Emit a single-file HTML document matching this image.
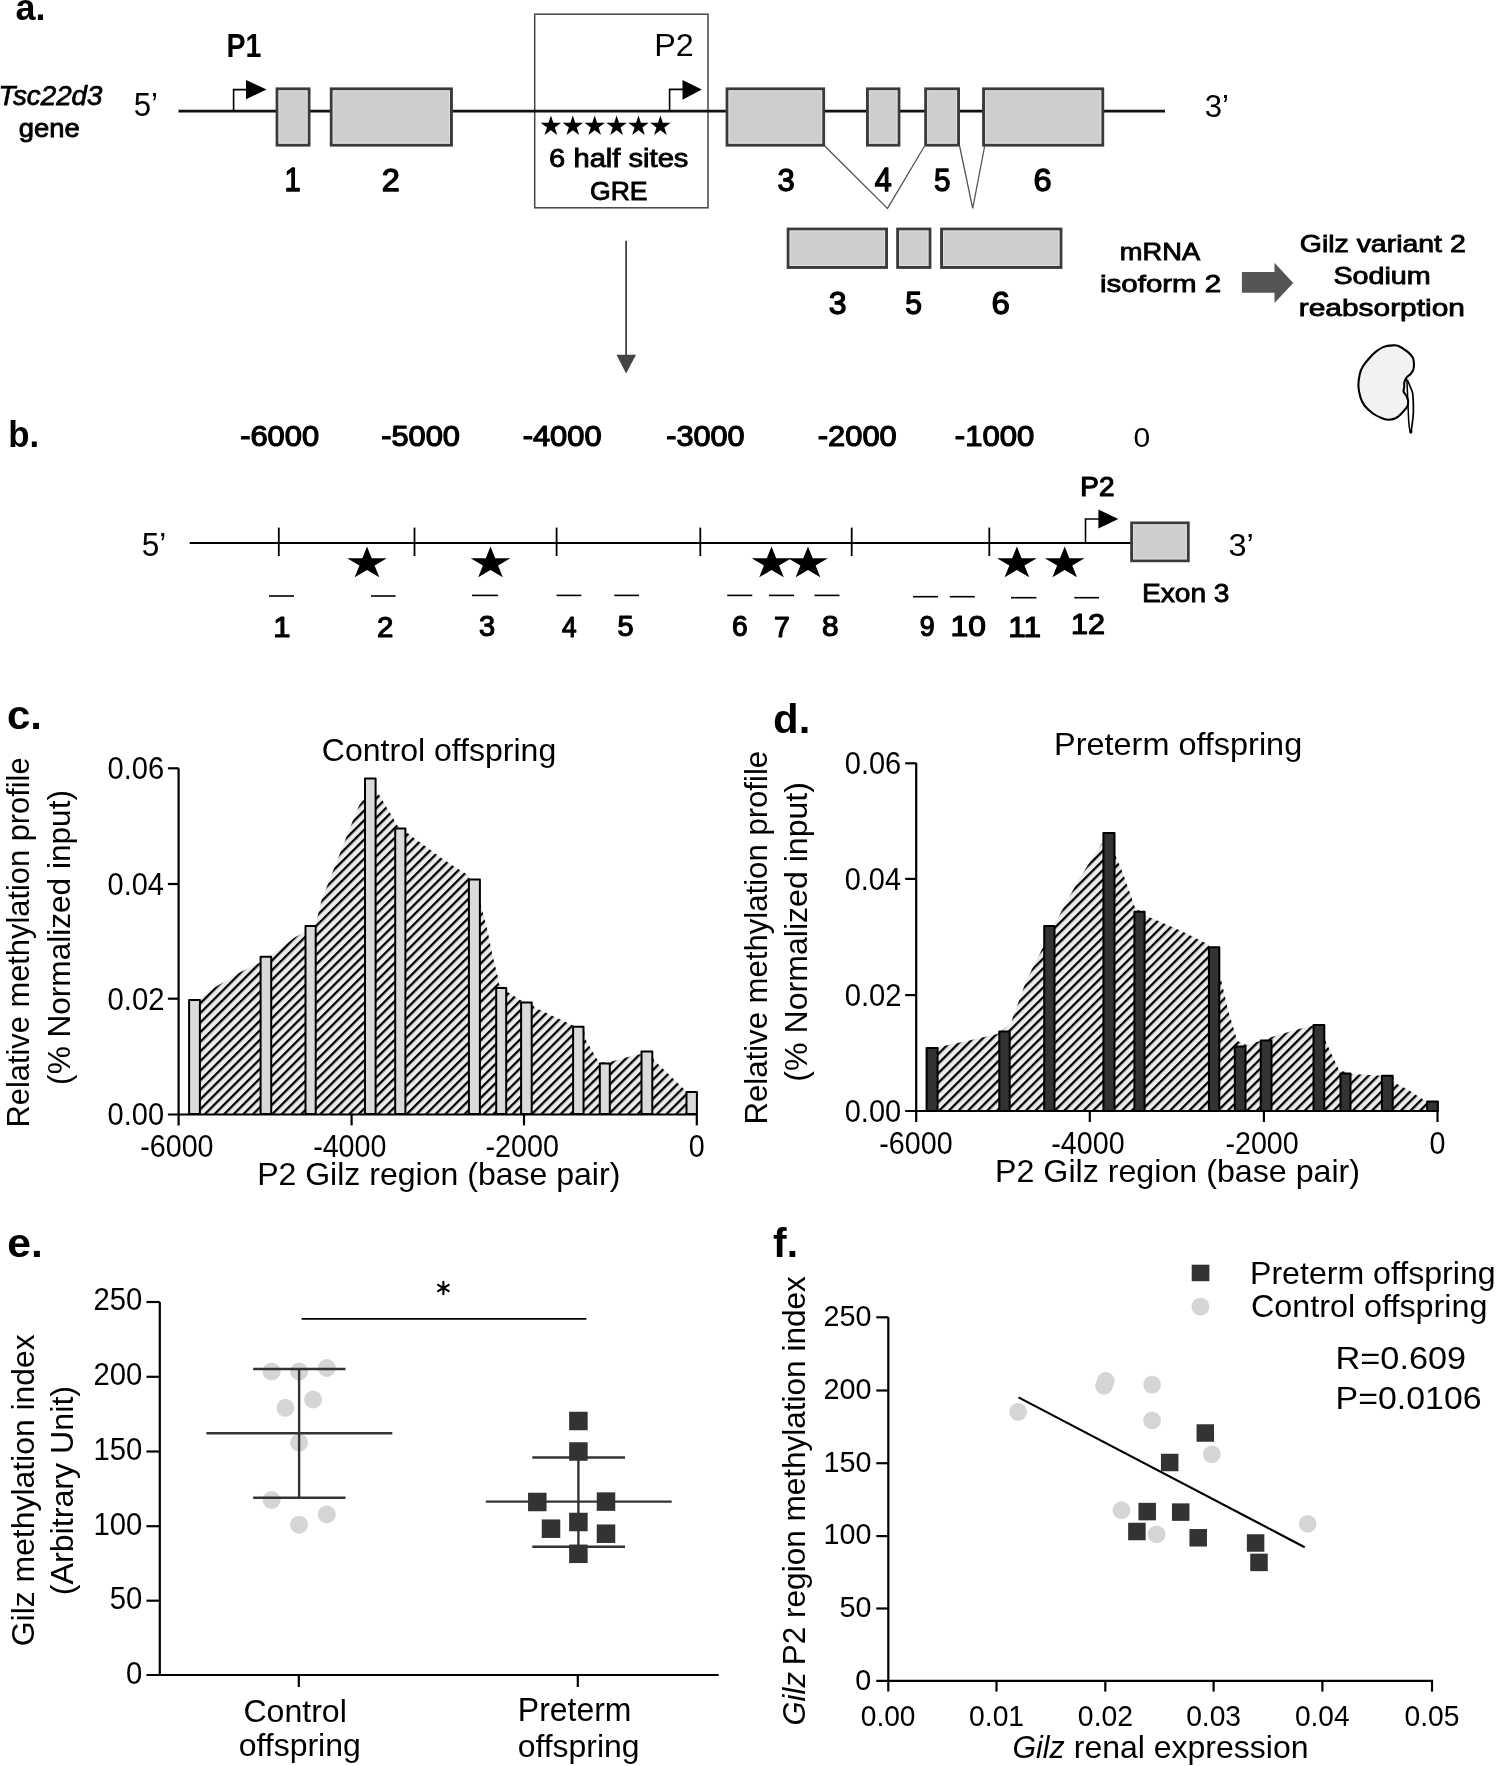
<!DOCTYPE html><html><head><meta charset="utf-8"><style>html,body{margin:0;padding:0;background:#fff;}svg{display:block;font-family:"Liberation Sans",sans-serif;filter:grayscale(1) blur(0.35px);}</style></head><body><svg width="1496" height="1766" viewBox="0 0 1496 1766"><rect width="1496" height="1766" fill="#fff"/><text x="15.52" y="20.14" font-size="36.36" font-weight="bold" font-style="normal" fill="#000" textLength="29.96" lengthAdjust="spacingAndGlyphs">a.</text>
<text x="226.54" y="56.50" font-size="32.9" font-weight="bold" font-style="normal" fill="#000" textLength="34.96" lengthAdjust="spacingAndGlyphs">P1</text>
<text x="-1.40" y="104.80" font-size="28.5" font-weight="normal" font-style="italic" fill="#000" textLength="103.80" lengthAdjust="spacingAndGlyphs" stroke="#000" stroke-width="0.75">Tsc22d3</text>
<text x="18.81" y="136.80" font-size="26" font-weight="normal" font-style="normal" fill="#000" textLength="60.82" lengthAdjust="spacingAndGlyphs" stroke="#000" stroke-width="0.85">gene</text>
<text x="133.65" y="115.67" font-size="32.71" font-weight="normal" font-style="normal" fill="#000" textLength="24.33" lengthAdjust="spacingAndGlyphs">5’</text>
<text x="1204.76" y="117.48" font-size="32.25" font-weight="normal" font-style="normal" fill="#000" textLength="24.22" lengthAdjust="spacingAndGlyphs">3’</text>
<rect x="534.7" y="14.2" width="173.3" height="193.6" fill="none" stroke="#444" stroke-width="1.5"/>
<line x1="178.50" y1="111.10" x2="1165.00" y2="111.10" stroke="#111" stroke-width="2.6"/>
<rect x="277.05" y="88.85" width="32.00" height="56.30" fill="#cecece" stroke="#3a3a3a" stroke-width="2.9"/>
<rect x="279.10" y="90.90" width="27.90" height="52.20" fill="none" stroke="#dcdcdc" stroke-width="1.1"/>
<rect x="331.25" y="88.85" width="120.20" height="56.30" fill="#cecece" stroke="#3a3a3a" stroke-width="2.9"/>
<rect x="333.30" y="90.90" width="116.10" height="52.20" fill="none" stroke="#dcdcdc" stroke-width="1.1"/>
<rect x="727.05" y="88.85" width="96.60" height="56.30" fill="#cecece" stroke="#3a3a3a" stroke-width="2.9"/>
<rect x="729.10" y="90.90" width="92.50" height="52.20" fill="none" stroke="#dcdcdc" stroke-width="1.1"/>
<rect x="867.45" y="88.85" width="31.50" height="56.30" fill="#cecece" stroke="#3a3a3a" stroke-width="2.9"/>
<rect x="869.50" y="90.90" width="27.40" height="52.20" fill="none" stroke="#dcdcdc" stroke-width="1.1"/>
<rect x="925.65" y="88.85" width="32.90" height="56.30" fill="#cecece" stroke="#3a3a3a" stroke-width="2.9"/>
<rect x="927.70" y="90.90" width="28.80" height="52.20" fill="none" stroke="#dcdcdc" stroke-width="1.1"/>
<rect x="983.55" y="88.85" width="119.20" height="56.30" fill="#cecece" stroke="#3a3a3a" stroke-width="2.9"/>
<rect x="985.60" y="90.90" width="115.10" height="52.20" fill="none" stroke="#dcdcdc" stroke-width="1.1"/>
<path d="M233.6,111 V89.6 H248" fill="none" stroke="#000" stroke-width="1.6"/>
<polygon points="246,80 266.5,89.6 246,99.2" fill="#000"/>
<path d="M669.6,111 V89.4 H684" fill="none" stroke="#000" stroke-width="1.6"/>
<polygon points="682.5,80.1 701.8,89.4 682.5,99.7" fill="#000"/>
<text x="654.22" y="56.30" font-size="31" font-weight="normal" font-style="normal" fill="#000" textLength="39.50" lengthAdjust="spacingAndGlyphs">P2</text>
<polygon points="550.90,115.40 553.32,122.86 561.17,122.86 554.82,127.47 557.25,134.94 550.90,130.33 544.55,134.94 546.98,127.47 540.63,122.86 548.48,122.86" fill="#000"/>
<polygon points="572.80,115.40 575.22,122.86 583.07,122.86 576.72,127.47 579.15,134.94 572.80,130.33 566.45,134.94 568.88,127.47 562.53,122.86 570.38,122.86" fill="#000"/>
<polygon points="594.70,115.40 597.12,122.86 604.97,122.86 598.62,127.47 601.05,134.94 594.70,130.33 588.35,134.94 590.78,127.47 584.43,122.86 592.28,122.86" fill="#000"/>
<polygon points="616.60,115.40 619.02,122.86 626.87,122.86 620.52,127.47 622.95,134.94 616.60,130.33 610.25,134.94 612.68,127.47 606.33,122.86 614.18,122.86" fill="#000"/>
<polygon points="638.50,115.40 640.92,122.86 648.77,122.86 642.42,127.47 644.85,134.94 638.50,130.33 632.15,134.94 634.58,127.47 628.23,122.86 636.08,122.86" fill="#000"/>
<polygon points="660.40,115.40 662.82,122.86 670.67,122.86 664.32,127.47 666.75,134.94 660.40,130.33 654.05,134.94 656.48,127.47 650.13,122.86 657.98,122.86" fill="#000"/>
<text x="549.14" y="167.40" font-size="25.5" font-weight="normal" font-style="normal" fill="#000" textLength="139.29" lengthAdjust="spacingAndGlyphs" stroke="#000" stroke-width="0.85">6 half sites</text>
<text x="589.97" y="199.70" font-size="26.3" font-weight="normal" font-style="normal" fill="#000" textLength="57.65" lengthAdjust="spacingAndGlyphs" stroke="#000" stroke-width="0.85">GRE</text>
<text x="284.46" y="191.25" font-size="32.32" font-weight="normal" font-style="normal" fill="#000" textLength="16.24" lengthAdjust="spacingAndGlyphs" stroke="#000" stroke-width="1.3" stroke-linejoin="round">1</text>
<text x="381.72" y="191.25" font-size="31.86" font-weight="normal" font-style="normal" fill="#000" textLength="18.09" lengthAdjust="spacingAndGlyphs" stroke="#000" stroke-width="1.3" stroke-linejoin="round">2</text>
<text x="777.41" y="190.94" font-size="31.41" font-weight="normal" font-style="normal" fill="#000" textLength="17.21" lengthAdjust="spacingAndGlyphs" stroke="#000" stroke-width="1.3" stroke-linejoin="round">3</text>
<text x="874.84" y="191.25" font-size="32.32" font-weight="normal" font-style="normal" fill="#000" textLength="16.96" lengthAdjust="spacingAndGlyphs" stroke="#000" stroke-width="1.3" stroke-linejoin="round">4</text>
<text x="934.06" y="190.93" font-size="31.86" font-weight="normal" font-style="normal" fill="#000" textLength="16.51" lengthAdjust="spacingAndGlyphs" stroke="#000" stroke-width="1.3" stroke-linejoin="round">5</text>
<text x="1033.63" y="190.94" font-size="31.41" font-weight="normal" font-style="normal" fill="#000" textLength="18.06" lengthAdjust="spacingAndGlyphs" stroke="#000" stroke-width="1.3" stroke-linejoin="round">6</text>
<polyline points="824.7,146 887.5,208.4 924.6,146" fill="none" stroke="#555" stroke-width="1.3"/>
<polyline points="959.6,146 972.7,208.4 984.7,146" fill="none" stroke="#555" stroke-width="1.3"/>
<rect x="788.15" y="229.05" width="98.40" height="38.40" fill="#cecece" stroke="#3a3a3a" stroke-width="2.9"/>
<rect x="790.20" y="231.10" width="94.30" height="34.30" fill="none" stroke="#dcdcdc" stroke-width="1.1"/>
<rect x="897.65" y="229.05" width="32.30" height="38.40" fill="#cecece" stroke="#3a3a3a" stroke-width="2.9"/>
<rect x="899.70" y="231.10" width="28.20" height="34.30" fill="none" stroke="#dcdcdc" stroke-width="1.1"/>
<rect x="941.55" y="229.05" width="119.40" height="38.40" fill="#cecece" stroke="#3a3a3a" stroke-width="2.9"/>
<rect x="943.60" y="231.10" width="115.30" height="34.30" fill="none" stroke="#dcdcdc" stroke-width="1.1"/>
<text x="828.87" y="313.63" font-size="31.55" font-weight="normal" font-style="normal" fill="#000" textLength="17.80" lengthAdjust="spacingAndGlyphs" stroke="#000" stroke-width="1.3" stroke-linejoin="round">3</text>
<text x="905.25" y="313.63" font-size="32.0" font-weight="normal" font-style="normal" fill="#000" textLength="16.74" lengthAdjust="spacingAndGlyphs" stroke="#000" stroke-width="1.3" stroke-linejoin="round">5</text>
<text x="991.50" y="313.63" font-size="31.55" font-weight="normal" font-style="normal" fill="#000" textLength="18.30" lengthAdjust="spacingAndGlyphs" stroke="#000" stroke-width="1.3" stroke-linejoin="round">6</text>
<text x="1119.83" y="260.10" font-size="24" font-weight="normal" font-style="normal" fill="#000" textLength="80.29" lengthAdjust="spacingAndGlyphs" stroke="#000" stroke-width="0.85">mRNA</text>
<text x="1100.08" y="291.70" font-size="24" font-weight="normal" font-style="normal" fill="#000" textLength="121.16" lengthAdjust="spacingAndGlyphs" stroke="#000" stroke-width="0.85">isoform 2</text>
<polygon points="1241.9,272 1274.5,272 1274.5,262.8 1293.2,283 1274.5,302.9 1274.5,292.7 1241.9,292.7" fill="#555"/>
<text x="1299.78" y="251.60" font-size="24.5" font-weight="normal" font-style="normal" fill="#000" textLength="165.96" lengthAdjust="spacingAndGlyphs" stroke="#000" stroke-width="0.85">Gilz variant 2</text>
<text x="1333.41" y="283.60" font-size="24.5" font-weight="normal" font-style="normal" fill="#000" textLength="97.34" lengthAdjust="spacingAndGlyphs" stroke="#000" stroke-width="0.85">Sodium</text>
<text x="1298.76" y="315.50" font-size="24.5" font-weight="normal" font-style="normal" fill="#000" textLength="166.16" lengthAdjust="spacingAndGlyphs" stroke="#000" stroke-width="0.85">reabsorption</text>
<line x1="626.10" y1="240.70" x2="626.10" y2="356.00" stroke="#444" stroke-width="1.8"/>
<polygon points="616.5,354.7 636,354.7 626.1,373.5" fill="#444"/>
<path d="M1392.56,345.40 C1395.04,345.26 1396.03,344.96 1398.51,346.00 C1400.98,347.04 1405.05,349.71 1407.43,351.65 C1409.80,353.58 1411.69,355.61 1412.78,357.59 C1413.87,359.57 1413.87,361.56 1413.97,363.54 C1414.06,365.52 1413.97,367.70 1413.37,369.48 C1412.78,371.27 1411.49,372.95 1410.40,374.24 C1409.31,375.53 1407.82,375.92 1406.83,377.21 C1405.84,378.50 1404.90,380.28 1404.45,381.97 C1404.01,383.65 1404.30,385.73 1404.16,387.32 C1404.01,388.90 1403.21,390.09 1403.56,391.48 C1403.91,392.87 1405.49,394.16 1406.24,395.64 C1406.98,397.13 1407.82,398.61 1408.02,400.40 C1408.22,402.18 1408.52,404.16 1407.43,406.34 C1406.34,408.52 1403.46,411.50 1401.48,413.48 C1399.50,415.46 1397.81,417.19 1395.54,418.23 C1393.26,419.27 1390.28,419.82 1387.81,419.72 C1385.33,419.62 1383.15,418.68 1380.67,417.64 C1378.19,416.60 1375.62,415.46 1372.94,413.48 C1370.27,411.50 1366.70,408.42 1364.62,405.75 C1362.54,403.07 1361.50,400.79 1360.46,397.43 C1359.42,394.06 1358.48,389.50 1358.38,385.54 C1358.28,381.57 1359.12,376.82 1359.86,373.64 C1360.61,370.47 1361.35,368.99 1362.84,366.51 C1364.32,364.03 1366.60,361.26 1368.78,358.78 C1370.96,356.30 1373.44,353.63 1375.92,351.65 C1378.39,349.67 1380.87,347.93 1383.64,346.89 C1386.42,345.85 1390.09,345.55 1392.56,345.40 Z" fill="#f2f2f2" stroke="#000" stroke-width="2.1"/>
<path d="M1406.83,379.00 C1406.93,381.08 1407.23,387.12 1407.43,391.48 C1407.62,395.84 1407.77,399.70 1408.02,405.15 C1408.27,410.60 1408.52,419.62 1408.91,424.18 C1409.31,428.74 1410.15,431.12 1410.40,432.50 " fill="none" stroke="#000" stroke-width="1.5"/>
<path d="M1407.43,380.18 C1408.02,381.57 1410.10,386.13 1410.99,388.51 C1411.88,390.89 1412.38,390.49 1412.78,394.45 C1413.17,398.42 1413.47,407.33 1413.37,412.29 C1413.27,417.24 1412.58,420.81 1412.18,424.18 C1411.79,427.55 1411.19,431.12 1410.99,432.50 " fill="none" stroke="#000" stroke-width="1.7"/>
<ellipse cx="1410.8" cy="431.5" rx="1.6" ry="2.2" fill="#000"/>
<text x="8.34" y="446.52" font-size="37.69" font-weight="bold" font-style="normal" fill="#000" textLength="30.96" lengthAdjust="spacingAndGlyphs">b.</text>
<text x="240.21" y="446.01" font-size="28.59" font-weight="normal" font-style="normal" fill="#000" textLength="78.85" lengthAdjust="spacingAndGlyphs" stroke="#000" stroke-width="1.2" stroke-linejoin="round">-6000</text>
<text x="381.21" y="446.01" font-size="28.59" font-weight="normal" font-style="normal" fill="#000" textLength="78.75" lengthAdjust="spacingAndGlyphs" stroke="#000" stroke-width="1.2" stroke-linejoin="round">-5000</text>
<text x="522.71" y="446.01" font-size="28.59" font-weight="normal" font-style="normal" fill="#000" textLength="78.85" lengthAdjust="spacingAndGlyphs" stroke="#000" stroke-width="1.2" stroke-linejoin="round">-4000</text>
<text x="666.22" y="446.01" font-size="28.59" font-weight="normal" font-style="normal" fill="#000" textLength="78.33" lengthAdjust="spacingAndGlyphs" stroke="#000" stroke-width="1.2" stroke-linejoin="round">-3000</text>
<text x="817.81" y="446.01" font-size="28.59" font-weight="normal" font-style="normal" fill="#000" textLength="78.95" lengthAdjust="spacingAndGlyphs" stroke="#000" stroke-width="1.2" stroke-linejoin="round">-2000</text>
<text x="954.80" y="446.01" font-size="28.59" font-weight="normal" font-style="normal" fill="#000" textLength="79.37" lengthAdjust="spacingAndGlyphs" stroke="#000" stroke-width="1.2" stroke-linejoin="round">-1000</text>
<text x="1133.40" y="446.90" font-size="28" font-weight="normal" font-style="normal" fill="#000" textLength="16.69" lengthAdjust="spacingAndGlyphs">0</text>
<text x="141.64" y="556.18" font-size="32.43" font-weight="normal" font-style="normal" fill="#000" textLength="24.56" lengthAdjust="spacingAndGlyphs">5’</text>
<text x="1228.50" y="555.89" font-size="30.99" font-weight="normal" font-style="normal" fill="#000" textLength="25.37" lengthAdjust="spacingAndGlyphs">3’</text>
<line x1="189.70" y1="543.00" x2="1131.40" y2="543.00" stroke="#000" stroke-width="1.8"/>
<line x1="278.80" y1="527.60" x2="278.80" y2="556.00" stroke="#000" stroke-width="1.8"/>
<line x1="414.50" y1="527.60" x2="414.50" y2="556.00" stroke="#000" stroke-width="1.8"/>
<line x1="556.60" y1="527.60" x2="556.60" y2="556.00" stroke="#000" stroke-width="1.8"/>
<line x1="700.30" y1="527.60" x2="700.30" y2="556.00" stroke="#000" stroke-width="1.8"/>
<line x1="851.70" y1="527.60" x2="851.70" y2="556.00" stroke="#000" stroke-width="1.8"/>
<line x1="989.30" y1="527.60" x2="989.30" y2="556.00" stroke="#000" stroke-width="1.8"/>
<path d="M1085.5,543 V519 H1099" fill="none" stroke="#000" stroke-width="1.6"/>
<polygon points="1098.4,509.5 1118.3,519 1098.4,528.5" fill="#000"/>
<text x="1080.38" y="496.10" font-size="26.86" font-weight="normal" font-style="normal" fill="#000" textLength="34.00" lengthAdjust="spacingAndGlyphs" stroke="#000" stroke-width="1.2" stroke-linejoin="round">P2</text>
<rect x="1131.60" y="522.90" width="56.70" height="37.90" fill="#cecece" stroke="#3a3a3a" stroke-width="2.8"/>
<rect x="1133.60" y="524.90" width="52.70" height="33.90" fill="none" stroke="#dcdcdc" stroke-width="1.1"/>
<text x="1141.95" y="601.50" font-size="26.6" font-weight="normal" font-style="normal" fill="#000" textLength="87.57" lengthAdjust="spacingAndGlyphs" stroke="#000" stroke-width="0.85">Exon 3</text>
<polygon points="367.00,546.60 371.70,558.35 386.89,558.35 374.60,565.61 379.29,577.35 367.00,570.09 354.71,577.35 359.40,565.61 347.11,558.35 362.30,558.35" fill="#000"/>
<polygon points="490.50,546.60 495.20,558.35 510.39,558.35 498.10,565.61 502.79,577.35 490.50,570.09 478.21,577.35 482.90,565.61 470.61,558.35 485.80,558.35" fill="#000"/>
<polygon points="771.50,546.60 776.20,558.35 791.39,558.35 779.10,565.61 783.79,577.35 771.50,570.09 759.21,577.35 763.90,565.61 751.61,558.35 766.80,558.35" fill="#000"/>
<polygon points="808.00,546.60 812.70,558.35 827.89,558.35 815.60,565.61 820.29,577.35 808.00,570.09 795.71,577.35 800.40,565.61 788.11,558.35 803.30,558.35" fill="#000"/>
<polygon points="1016.90,546.60 1021.60,558.35 1036.79,558.35 1024.50,565.61 1029.19,577.35 1016.90,570.09 1004.61,577.35 1009.30,565.61 997.01,558.35 1012.20,558.35" fill="#000"/>
<polygon points="1064.70,546.60 1069.40,558.35 1084.59,558.35 1072.30,565.61 1076.99,577.35 1064.70,570.09 1052.41,577.35 1057.10,565.61 1044.81,558.35 1060.00,558.35" fill="#000"/>
<line x1="269.00" y1="596.00" x2="294.00" y2="596.00" stroke="#000" stroke-width="1.6"/>
<line x1="371.00" y1="596.00" x2="395.60" y2="596.00" stroke="#000" stroke-width="1.6"/>
<line x1="472.00" y1="595.40" x2="497.90" y2="595.40" stroke="#000" stroke-width="1.6"/>
<line x1="556.60" y1="595.40" x2="581.30" y2="595.40" stroke="#000" stroke-width="1.6"/>
<line x1="614.30" y1="595.40" x2="639.00" y2="595.40" stroke="#000" stroke-width="1.6"/>
<line x1="727.20" y1="595.40" x2="752.30" y2="595.40" stroke="#000" stroke-width="1.6"/>
<line x1="769.00" y1="595.40" x2="794.00" y2="595.40" stroke="#000" stroke-width="1.6"/>
<line x1="814.50" y1="595.40" x2="839.50" y2="595.40" stroke="#000" stroke-width="1.6"/>
<line x1="913.00" y1="596.70" x2="938.00" y2="596.70" stroke="#000" stroke-width="1.6"/>
<line x1="949.80" y1="596.70" x2="974.80" y2="596.70" stroke="#000" stroke-width="1.6"/>
<line x1="1011.00" y1="597.70" x2="1036.40" y2="597.70" stroke="#000" stroke-width="1.6"/>
<line x1="1074.30" y1="597.70" x2="1099.00" y2="597.70" stroke="#000" stroke-width="1.6"/>
<text x="273.27" y="636.50" font-size="29.57" font-weight="normal" font-style="normal" fill="#000" textLength="17.26" lengthAdjust="spacingAndGlyphs" stroke="#000" stroke-width="1.2" stroke-linejoin="round">1</text>
<text x="377.13" y="636.50" font-size="29.14" font-weight="normal" font-style="normal" fill="#000" textLength="16.38" lengthAdjust="spacingAndGlyphs" stroke="#000" stroke-width="1.2" stroke-linejoin="round">2</text>
<text x="479.04" y="636.21" font-size="28.73" font-weight="normal" font-style="normal" fill="#000" textLength="16.16" lengthAdjust="spacingAndGlyphs" stroke="#000" stroke-width="1.2" stroke-linejoin="round">3</text>
<text x="562.07" y="636.50" font-size="29.57" font-weight="normal" font-style="normal" fill="#000" textLength="14.65" lengthAdjust="spacingAndGlyphs" stroke="#000" stroke-width="1.2" stroke-linejoin="round">4</text>
<text x="617.44" y="636.21" font-size="29.14" font-weight="normal" font-style="normal" fill="#000" textLength="16.16" lengthAdjust="spacingAndGlyphs" stroke="#000" stroke-width="1.2" stroke-linejoin="round">5</text>
<text x="731.89" y="636.21" font-size="28.73" font-weight="normal" font-style="normal" fill="#000" textLength="15.67" lengthAdjust="spacingAndGlyphs" stroke="#000" stroke-width="1.2" stroke-linejoin="round">6</text>
<text x="773.88" y="636.50" font-size="29.57" font-weight="normal" font-style="normal" fill="#000" textLength="15.77" lengthAdjust="spacingAndGlyphs" stroke="#000" stroke-width="1.2" stroke-linejoin="round">7</text>
<text x="822.06" y="636.21" font-size="28.73" font-weight="normal" font-style="normal" fill="#000" textLength="16.57" lengthAdjust="spacingAndGlyphs" stroke="#000" stroke-width="1.2" stroke-linejoin="round">8</text>
<text x="919.69" y="636.21" font-size="28.73" font-weight="normal" font-style="normal" fill="#000" textLength="14.95" lengthAdjust="spacingAndGlyphs" stroke="#000" stroke-width="1.2" stroke-linejoin="round">9</text>
<text x="950.62" y="636.21" font-size="28.73" font-weight="normal" font-style="normal" fill="#000" textLength="35.37" lengthAdjust="spacingAndGlyphs" stroke="#000" stroke-width="1.2" stroke-linejoin="round">10</text>
<text x="1008.24" y="636.50" font-size="29.57" font-weight="normal" font-style="normal" fill="#000" textLength="32.68" lengthAdjust="spacingAndGlyphs" stroke="#000" stroke-width="1.2" stroke-linejoin="round">11</text>
<text x="1071.01" y="634.30" font-size="29.14" font-weight="normal" font-style="normal" fill="#000" textLength="33.99" lengthAdjust="spacingAndGlyphs" stroke="#000" stroke-width="1.2" stroke-linejoin="round">12</text>
<text x="6.92" y="728.69" font-size="40.91" font-weight="bold" font-style="normal" fill="#000" textLength="35.08" lengthAdjust="spacingAndGlyphs">c.</text>
<text x="773.12" y="733.30" font-size="40.41" font-weight="bold" font-style="normal" fill="#000" textLength="37.26" lengthAdjust="spacingAndGlyphs">d.</text>
<defs><pattern id="hc" patternUnits="userSpaceOnUse" width="6.8" height="6.8" patternTransform="rotate(45)"><rect width="6.8" height="6.8" fill="#ebebeb"/><rect x="0" y="0" width="2.3" height="6.8" fill="#000"/></pattern><pattern id="hd" patternUnits="userSpaceOnUse" width="6.8" height="6.8" patternTransform="rotate(45)"><rect width="6.8" height="6.8" fill="#ebebeb"/><rect x="0" y="0" width="2.3" height="6.8" fill="#000"/></pattern></defs>
<polygon points="194.5,1114 194.5,1000.0 200.4,998.5 207.0,993.0 215.0,987.2 228.0,979.5 240.0,972.2 250.0,967.5 259.2,963.1 272.2,954.1 284.0,945.5 295.3,937.1 304.3,932.6 316.0,923.0 321.5,900.0 327.3,885.5 334.0,868.2 339.8,853.7 346.6,836.4 352.3,822.0 359.1,805.6 364.0,798.5 376.4,791.2 379.3,795.0 386.0,806.6 392.8,817.2 396.6,824.9 406.0,831.8 412.9,837.2 424.7,845.8 440.9,857.7 453.8,866.3 468.0,875.0 481.0,906.0 487.2,929.0 492.5,955.6 497.4,975.0 499.0,984.6 506.7,988.0 507.7,992.0 520.6,1000.3 532.0,1004.0 534.7,1007.5 572.0,1025.0 584.0,1030.0 585.5,1039.6 599.0,1062.4 610.3,1062.0 611.4,1061.4 628.0,1057.0 641.0,1054.0 652.8,1056.0 653.8,1060.0 669.4,1074.9 685.5,1090.4 692.0,1092.0 692.0,1114" fill="url(#hc)"/>
<rect x="189.10" y="1000.10" width="10.80" height="113.90" fill="#dadada" stroke="#000" stroke-width="2" stroke-linejoin="round"/>
<rect x="260.60" y="956.70" width="10.60" height="157.30" fill="#dadada" stroke="#000" stroke-width="2" stroke-linejoin="round"/>
<rect x="305.50" y="926.10" width="10.20" height="187.90" fill="#dadada" stroke="#000" stroke-width="2" stroke-linejoin="round"/>
<rect x="365.00" y="778.50" width="10.60" height="335.50" fill="#dadada" stroke="#000" stroke-width="2" stroke-linejoin="round"/>
<rect x="395.20" y="828.50" width="10.20" height="285.50" fill="#dadada" stroke="#000" stroke-width="2" stroke-linejoin="round"/>
<rect x="468.90" y="879.60" width="11.00" height="234.40" fill="#dadada" stroke="#000" stroke-width="2" stroke-linejoin="round"/>
<rect x="496.20" y="988.00" width="10.00" height="126.00" fill="#dadada" stroke="#000" stroke-width="2" stroke-linejoin="round"/>
<rect x="521.10" y="1002.60" width="10.60" height="111.40" fill="#dadada" stroke="#000" stroke-width="2" stroke-linejoin="round"/>
<rect x="573.10" y="1026.80" width="10.40" height="87.20" fill="#dadada" stroke="#000" stroke-width="2" stroke-linejoin="round"/>
<rect x="599.80" y="1063.60" width="10.00" height="50.40" fill="#dadada" stroke="#000" stroke-width="2" stroke-linejoin="round"/>
<rect x="641.50" y="1051.60" width="10.80" height="62.40" fill="#dadada" stroke="#000" stroke-width="2" stroke-linejoin="round"/>
<rect x="686.50" y="1092.00" width="10.40" height="22.00" fill="#dadada" stroke="#000" stroke-width="2" stroke-linejoin="round"/>
<line x1="178.60" y1="768.30" x2="178.60" y2="1125.40" stroke="#000" stroke-width="2.2"/>
<line x1="167.90" y1="1114.50" x2="697.50" y2="1114.50" stroke="#000" stroke-width="2.2"/>
<line x1="167.90" y1="768.30" x2="178.60" y2="768.30" stroke="#000" stroke-width="2.2"/>
<line x1="167.90" y1="884.00" x2="178.60" y2="884.00" stroke="#000" stroke-width="2.2"/>
<line x1="167.90" y1="998.70" x2="178.60" y2="998.70" stroke="#000" stroke-width="2.2"/>
<line x1="351.60" y1="1114.50" x2="351.60" y2="1125.40" stroke="#000" stroke-width="2.2"/>
<line x1="524.00" y1="1114.50" x2="524.00" y2="1125.40" stroke="#000" stroke-width="2.2"/>
<line x1="696.80" y1="1114.50" x2="696.80" y2="1125.40" stroke="#000" stroke-width="2.2"/>
<text x="107.54" y="779.10" font-size="30.5" font-weight="normal" font-style="normal" fill="#000" textLength="56.67" lengthAdjust="spacingAndGlyphs">0.06</text>
<text x="107.54" y="894.80" font-size="30.5" font-weight="normal" font-style="normal" fill="#000" textLength="56.37" lengthAdjust="spacingAndGlyphs">0.04</text>
<text x="107.53" y="1009.50" font-size="30.5" font-weight="normal" font-style="normal" fill="#000" textLength="56.97" lengthAdjust="spacingAndGlyphs">0.02</text>
<text x="107.54" y="1125.00" font-size="30.5" font-weight="normal" font-style="normal" fill="#000" textLength="56.52" lengthAdjust="spacingAndGlyphs">0.00</text>
<text x="140.23" y="1156.70" font-size="30.5" font-weight="normal" font-style="normal" fill="#000" textLength="73.33" lengthAdjust="spacingAndGlyphs">-6000</text>
<text x="313.13" y="1156.70" font-size="30.5" font-weight="normal" font-style="normal" fill="#000" textLength="73.33" lengthAdjust="spacingAndGlyphs">-4000</text>
<text x="485.53" y="1156.70" font-size="30.5" font-weight="normal" font-style="normal" fill="#000" textLength="73.33" lengthAdjust="spacingAndGlyphs">-2000</text>
<text x="688.77" y="1156.70" font-size="30.5" font-weight="normal" font-style="normal" fill="#000" textLength="15.95" lengthAdjust="spacingAndGlyphs">0</text>
<text x="257.14" y="1184.80" font-size="32" font-weight="normal" font-style="normal" fill="#000" textLength="363.20" lengthAdjust="spacingAndGlyphs">P2 Gilz region (base pair)</text>
<text x="321.80" y="760.60" font-size="32" font-weight="normal" font-style="normal" fill="#000" textLength="234.45" lengthAdjust="spacingAndGlyphs">Control offspring</text>
<text transform="translate(28.90,1127.47) rotate(-90)" x="0" y="0" font-size="31.5" font-weight="normal" font-style="normal" fill="#000" textLength="370.09" lengthAdjust="spacingAndGlyphs">Relative methylation profile</text>
<text transform="translate(70.20,1084.89) rotate(-90)" x="0" y="0" font-size="31.5" font-weight="normal" font-style="normal" fill="#000" textLength="294.84" lengthAdjust="spacingAndGlyphs">(% Normalized input)</text>
<polygon points="932.0,1111 932.0,1047.5 939.0,1046.9 968.0,1040.7 997.2,1033.9 1010.8,1023.2 1026.3,980.6 1043.7,945.7 1055.4,922.4 1078.6,879.8 1101.9,843.0 1115.9,856.5 1123.2,874.0 1134.8,907.0 1145.5,915.6 1181.4,931.0 1208.4,944.5 1220.4,976.7 1228.0,1010.0 1237.4,1040.9 1246.7,1045.0 1260.2,1040.9 1272.6,1036.8 1293.3,1030.5 1313.0,1025.4 1325.5,1040.9 1339.0,1070.0 1351.4,1074.0 1381.4,1075.7 1393.8,1082.3 1409.4,1090.6 1426.6,1102.0 1432.0,1102.0 1432.0,1111" fill="url(#hd)"/>
<rect x="926.60" y="1048.10" width="11.00" height="62.90" fill="#333" stroke="#000" stroke-width="2" stroke-linejoin="round"/>
<rect x="999.30" y="1031.60" width="10.40" height="79.40" fill="#333" stroke="#000" stroke-width="2" stroke-linejoin="round"/>
<rect x="1044.20" y="925.90" width="10.30" height="185.10" fill="#333" stroke="#000" stroke-width="2" stroke-linejoin="round"/>
<rect x="1103.40" y="832.90" width="11.10" height="278.10" fill="#333" stroke="#000" stroke-width="2" stroke-linejoin="round"/>
<rect x="1134.40" y="911.80" width="10.20" height="199.20" fill="#333" stroke="#000" stroke-width="2" stroke-linejoin="round"/>
<rect x="1208.90" y="947.20" width="10.40" height="163.80" fill="#333" stroke="#000" stroke-width="2" stroke-linejoin="round"/>
<rect x="1234.80" y="1046.60" width="10.70" height="64.40" fill="#333" stroke="#000" stroke-width="2" stroke-linejoin="round"/>
<rect x="1260.70" y="1040.50" width="10.80" height="70.50" fill="#333" stroke="#000" stroke-width="2" stroke-linejoin="round"/>
<rect x="1313.50" y="1024.90" width="10.80" height="86.10" fill="#333" stroke="#000" stroke-width="2" stroke-linejoin="round"/>
<rect x="1340.50" y="1073.60" width="10.00" height="37.40" fill="#333" stroke="#000" stroke-width="2" stroke-linejoin="round"/>
<rect x="1381.90" y="1075.70" width="10.80" height="35.30" fill="#333" stroke="#000" stroke-width="2" stroke-linejoin="round"/>
<rect x="1427.10" y="1101.60" width="10.80" height="9.40" fill="#333" stroke="#000" stroke-width="2" stroke-linejoin="round"/>
<line x1="916.20" y1="762.80" x2="916.20" y2="1122.00" stroke="#000" stroke-width="2.2"/>
<line x1="905.20" y1="1111.00" x2="1438.40" y2="1111.00" stroke="#000" stroke-width="2.2"/>
<line x1="905.20" y1="763.30" x2="916.20" y2="763.30" stroke="#000" stroke-width="2.2"/>
<line x1="905.20" y1="878.90" x2="916.20" y2="878.90" stroke="#000" stroke-width="2.2"/>
<line x1="905.20" y1="995.10" x2="916.20" y2="995.10" stroke="#000" stroke-width="2.2"/>
<line x1="1089.80" y1="1111.00" x2="1089.80" y2="1122.00" stroke="#000" stroke-width="2.2"/>
<line x1="1263.90" y1="1111.00" x2="1263.90" y2="1122.00" stroke="#000" stroke-width="2.2"/>
<line x1="1437.50" y1="1111.00" x2="1437.50" y2="1122.00" stroke="#000" stroke-width="2.2"/>
<text x="844.74" y="773.90" font-size="30.5" font-weight="normal" font-style="normal" fill="#000" textLength="56.56" lengthAdjust="spacingAndGlyphs">0.06</text>
<text x="844.74" y="889.50" font-size="30.5" font-weight="normal" font-style="normal" fill="#000" textLength="56.26" lengthAdjust="spacingAndGlyphs">0.04</text>
<text x="844.73" y="1005.70" font-size="30.5" font-weight="normal" font-style="normal" fill="#000" textLength="56.87" lengthAdjust="spacingAndGlyphs">0.02</text>
<text x="844.74" y="1121.60" font-size="30.5" font-weight="normal" font-style="normal" fill="#000" textLength="56.41" lengthAdjust="spacingAndGlyphs">0.00</text>
<text x="879.33" y="1154.10" font-size="30.5" font-weight="normal" font-style="normal" fill="#000" textLength="73.33" lengthAdjust="spacingAndGlyphs">-6000</text>
<text x="1051.33" y="1154.10" font-size="30.5" font-weight="normal" font-style="normal" fill="#000" textLength="73.33" lengthAdjust="spacingAndGlyphs">-4000</text>
<text x="1225.43" y="1154.10" font-size="30.5" font-weight="normal" font-style="normal" fill="#000" textLength="73.33" lengthAdjust="spacingAndGlyphs">-2000</text>
<text x="1429.47" y="1154.10" font-size="30.5" font-weight="normal" font-style="normal" fill="#000" textLength="15.95" lengthAdjust="spacingAndGlyphs">0</text>
<text x="995.02" y="1182.20" font-size="32" font-weight="normal" font-style="normal" fill="#000" textLength="365.03" lengthAdjust="spacingAndGlyphs">P2 Gilz region (base pair)</text>
<text x="1054.11" y="755.20" font-size="32" font-weight="normal" font-style="normal" fill="#000" textLength="248.05" lengthAdjust="spacingAndGlyphs">Preterm offspring</text>
<text transform="translate(766.80,1124.49) rotate(-90)" x="0" y="0" font-size="31.5" font-weight="normal" font-style="normal" fill="#000" textLength="373.63" lengthAdjust="spacingAndGlyphs">Relative methylation profile</text>
<text transform="translate(806.50,1081.63) rotate(-90)" x="0" y="0" font-size="31.5" font-weight="normal" font-style="normal" fill="#000" textLength="299.61" lengthAdjust="spacingAndGlyphs">(% Normalized input)</text>
<text x="7.30" y="1256.69" font-size="40.91" font-weight="bold" font-style="normal" fill="#000" textLength="35.54" lengthAdjust="spacingAndGlyphs">e.</text>
<line x1="159.80" y1="1302.00" x2="159.80" y2="1675.40" stroke="#000" stroke-width="2.2"/>
<line x1="146.50" y1="1675.00" x2="718.70" y2="1675.00" stroke="#000" stroke-width="2.2"/>
<line x1="146.50" y1="1302.00" x2="159.80" y2="1302.00" stroke="#000" stroke-width="2.2"/>
<line x1="146.50" y1="1376.80" x2="159.80" y2="1376.80" stroke="#000" stroke-width="2.2"/>
<line x1="146.50" y1="1451.50" x2="159.80" y2="1451.50" stroke="#000" stroke-width="2.2"/>
<line x1="146.50" y1="1526.20" x2="159.80" y2="1526.20" stroke="#000" stroke-width="2.2"/>
<line x1="146.50" y1="1600.70" x2="159.80" y2="1600.70" stroke="#000" stroke-width="2.2"/>
<line x1="298.80" y1="1675.00" x2="298.80" y2="1687.00" stroke="#000" stroke-width="2.2"/>
<line x1="577.80" y1="1675.00" x2="577.80" y2="1687.00" stroke="#000" stroke-width="2.2"/>
<text x="93.44" y="1310.39" font-size="30.56" font-weight="normal" font-style="normal" fill="#000" textLength="48.79" lengthAdjust="spacingAndGlyphs">250</text>
<text x="93.44" y="1385.19" font-size="30.56" font-weight="normal" font-style="normal" fill="#000" textLength="48.79" lengthAdjust="spacingAndGlyphs">200</text>
<text x="93.44" y="1459.89" font-size="30.56" font-weight="normal" font-style="normal" fill="#000" textLength="48.79" lengthAdjust="spacingAndGlyphs">150</text>
<text x="93.44" y="1534.59" font-size="30.56" font-weight="normal" font-style="normal" fill="#000" textLength="48.79" lengthAdjust="spacingAndGlyphs">100</text>
<text x="109.67" y="1609.09" font-size="30.56" font-weight="normal" font-style="normal" fill="#000" textLength="32.53" lengthAdjust="spacingAndGlyphs">50</text>
<text x="125.89" y="1683.69" font-size="30.56" font-weight="normal" font-style="normal" fill="#000" textLength="16.26" lengthAdjust="spacingAndGlyphs">0</text>
<line x1="301.60" y1="1318.80" x2="586.40" y2="1318.80" stroke="#000" stroke-width="1.8"/>
<path d="M443.40,1288.00 L443.40,1281.80 M443.40,1288.00 L448.77,1284.90 M443.40,1288.00 L438.03,1284.90 M443.40,1288.00 L438.03,1291.10 M443.40,1288.00 L448.77,1291.10 M443.40,1288.00 L443.40,1294.20" stroke="#000" stroke-width="2.1" stroke-linecap="round" fill="none"/>
<circle cx="271.6" cy="1371.4" r="9" fill="#d5d5d5"/>
<circle cx="299.1" cy="1371.4" r="9" fill="#d5d5d5"/>
<circle cx="326.8" cy="1368" r="9" fill="#d5d5d5"/>
<circle cx="313.1" cy="1399.5" r="9" fill="#d5d5d5"/>
<circle cx="285.4" cy="1407.8" r="9" fill="#d5d5d5"/>
<circle cx="299.1" cy="1442.6" r="9" fill="#d5d5d5"/>
<circle cx="271.6" cy="1500" r="9" fill="#d5d5d5"/>
<circle cx="326.8" cy="1514.4" r="9" fill="#d5d5d5"/>
<circle cx="299.1" cy="1524.7" r="9" fill="#d5d5d5"/>
<line x1="299.10" y1="1369.00" x2="299.10" y2="1497.80" stroke="#333" stroke-width="2.4"/>
<line x1="253.20" y1="1369.00" x2="345.50" y2="1369.00" stroke="#333" stroke-width="2.4"/>
<line x1="253.20" y1="1497.80" x2="345.50" y2="1497.80" stroke="#333" stroke-width="2.4"/>
<line x1="206.40" y1="1433.20" x2="392.30" y2="1433.20" stroke="#333" stroke-width="2.4"/>
<line x1="578.40" y1="1457.50" x2="578.40" y2="1546.70" stroke="#333" stroke-width="2.4"/>
<line x1="532.30" y1="1457.50" x2="625.00" y2="1457.50" stroke="#333" stroke-width="2.4"/>
<line x1="532.30" y1="1546.70" x2="625.00" y2="1546.70" stroke="#333" stroke-width="2.4"/>
<line x1="485.80" y1="1501.60" x2="671.70" y2="1501.60" stroke="#333" stroke-width="2.4"/>
<rect x="569.15" y="1411.75" width="18.5" height="18.5" fill="#333"/>
<rect x="569.15" y="1442.25" width="18.5" height="18.5" fill="#333"/>
<rect x="528.05" y="1492.75" width="18.5" height="18.5" fill="#333"/>
<rect x="596.75" y="1492.35" width="18.5" height="18.5" fill="#333"/>
<rect x="569.15" y="1512.75" width="18.5" height="18.5" fill="#333"/>
<rect x="541.75" y="1519.45" width="18.5" height="18.5" fill="#333"/>
<rect x="596.75" y="1524.45" width="18.5" height="18.5" fill="#333"/>
<rect x="569.15" y="1544.55" width="18.5" height="18.5" fill="#333"/>
<text x="243.40" y="1722.28" font-size="32.24" font-weight="normal" font-style="normal" fill="#000" textLength="103.41" lengthAdjust="spacingAndGlyphs">Control</text>
<text x="238.72" y="1756.37" font-size="31.55" font-weight="normal" font-style="normal" fill="#000" textLength="122.04" lengthAdjust="spacingAndGlyphs">offspring</text>
<text x="517.84" y="1721.47" font-size="32.71" font-weight="normal" font-style="normal" fill="#000" textLength="113.62" lengthAdjust="spacingAndGlyphs">Preterm</text>
<text x="517.72" y="1756.87" font-size="31.55" font-weight="normal" font-style="normal" fill="#000" textLength="121.83" lengthAdjust="spacingAndGlyphs">offspring</text>
<text transform="translate(34.20,1646.19) rotate(-90)" x="0" y="0" font-size="32" font-weight="normal" font-style="normal" fill="#000" textLength="311.89" lengthAdjust="spacingAndGlyphs">Gilz methylation index</text>
<text transform="translate(72.50,1595.23) rotate(-90)" x="0" y="0" font-size="31" font-weight="normal" font-style="normal" fill="#000" textLength="209.29" lengthAdjust="spacingAndGlyphs">(Arbitrary Unit)</text>
<text x="773.09" y="1256.60" font-size="40.83" font-weight="bold" font-style="normal" fill="#000" textLength="25.01" lengthAdjust="spacingAndGlyphs">f.</text>
<line x1="888.30" y1="1317.30" x2="888.30" y2="1691.60" stroke="#000" stroke-width="2.2"/>
<line x1="876.30" y1="1680.80" x2="1433.00" y2="1680.80" stroke="#000" stroke-width="2.2"/>
<line x1="876.30" y1="1317.30" x2="888.30" y2="1317.30" stroke="#000" stroke-width="2.2"/>
<line x1="876.30" y1="1390.50" x2="888.30" y2="1390.50" stroke="#000" stroke-width="2.2"/>
<line x1="876.30" y1="1463.20" x2="888.30" y2="1463.20" stroke="#000" stroke-width="2.2"/>
<line x1="876.30" y1="1536.10" x2="888.30" y2="1536.10" stroke="#000" stroke-width="2.2"/>
<line x1="876.30" y1="1608.50" x2="888.30" y2="1608.50" stroke="#000" stroke-width="2.2"/>
<line x1="996.50" y1="1680.80" x2="996.50" y2="1691.60" stroke="#000" stroke-width="2.2"/>
<line x1="1105.30" y1="1680.80" x2="1105.30" y2="1691.60" stroke="#000" stroke-width="2.2"/>
<line x1="1213.60" y1="1680.80" x2="1213.60" y2="1691.60" stroke="#000" stroke-width="2.2"/>
<line x1="1322.40" y1="1680.80" x2="1322.40" y2="1691.60" stroke="#000" stroke-width="2.2"/>
<line x1="1432.00" y1="1680.80" x2="1432.00" y2="1691.60" stroke="#000" stroke-width="2.2"/>
<text x="823.46" y="1325.61" font-size="29.3" font-weight="normal" font-style="normal" fill="#000" textLength="47.94" lengthAdjust="spacingAndGlyphs">250</text>
<text x="823.46" y="1398.81" font-size="29.3" font-weight="normal" font-style="normal" fill="#000" textLength="47.94" lengthAdjust="spacingAndGlyphs">200</text>
<text x="823.46" y="1471.51" font-size="29.3" font-weight="normal" font-style="normal" fill="#000" textLength="47.94" lengthAdjust="spacingAndGlyphs">150</text>
<text x="823.46" y="1544.41" font-size="29.3" font-weight="normal" font-style="normal" fill="#000" textLength="47.94" lengthAdjust="spacingAndGlyphs">100</text>
<text x="839.41" y="1616.81" font-size="29.3" font-weight="normal" font-style="normal" fill="#000" textLength="31.96" lengthAdjust="spacingAndGlyphs">50</text>
<text x="855.36" y="1690.01" font-size="29.3" font-weight="normal" font-style="normal" fill="#000" textLength="15.98" lengthAdjust="spacingAndGlyphs">0</text>
<text x="860.77" y="1725.80" font-size="30" font-weight="normal" font-style="normal" fill="#000" textLength="54.75" lengthAdjust="spacingAndGlyphs">0.00</text>
<text x="969.07" y="1725.80" font-size="30" font-weight="normal" font-style="normal" fill="#000" textLength="55.04" lengthAdjust="spacingAndGlyphs">0.01</text>
<text x="1077.87" y="1725.80" font-size="30" font-weight="normal" font-style="normal" fill="#000" textLength="55.19" lengthAdjust="spacingAndGlyphs">0.02</text>
<text x="1186.17" y="1725.80" font-size="30" font-weight="normal" font-style="normal" fill="#000" textLength="54.89" lengthAdjust="spacingAndGlyphs">0.03</text>
<text x="1294.98" y="1725.80" font-size="30" font-weight="normal" font-style="normal" fill="#000" textLength="54.60" lengthAdjust="spacingAndGlyphs">0.04</text>
<text x="1404.57" y="1725.80" font-size="30" font-weight="normal" font-style="normal" fill="#000" textLength="54.89" lengthAdjust="spacingAndGlyphs">0.05</text>
<text x="1012.38" y="1758.20" font-size="30.5" font-weight="normal" font-style="italic" fill="#000" textLength="52.34" lengthAdjust="spacingAndGlyphs">Gilz</text>
<text x="1073.82" y="1758.20" font-size="30.5" font-weight="normal" font-style="normal" fill="#000" textLength="234.64" lengthAdjust="spacingAndGlyphs">renal expression</text>
<text transform="translate(804.70,1725.55) rotate(-90)" x="0" y="0" font-size="32" font-weight="normal" font-style="italic" fill="#000" textLength="53.49" lengthAdjust="spacingAndGlyphs">Gilz</text>
<text transform="translate(804.70,1665.22) rotate(-90)" x="0" y="0" font-size="32" font-weight="normal" font-style="normal" fill="#000" textLength="388.97" lengthAdjust="spacingAndGlyphs">P2 region methylation index</text>
<rect x="1191.7" y="1264.7" width="17.7" height="16.5" fill="#333"/>
<circle cx="1200.4" cy="1306.7" r="9" fill="#d5d5d5"/>
<text x="1250.03" y="1284.00" font-size="32" font-weight="normal" font-style="normal" fill="#000" textLength="245.61" lengthAdjust="spacingAndGlyphs">Preterm offspring</text>
<text x="1250.99" y="1317.40" font-size="32" font-weight="normal" font-style="normal" fill="#000" textLength="236.38" lengthAdjust="spacingAndGlyphs">Control offspring</text>
<text x="1335.56" y="1368.50" font-size="31" font-weight="normal" font-style="normal" fill="#000" textLength="130.64" lengthAdjust="spacingAndGlyphs">R=0.609</text>
<text x="1335.59" y="1408.80" font-size="31" font-weight="normal" font-style="normal" fill="#000" textLength="146.06" lengthAdjust="spacingAndGlyphs">P=0.0106</text>
<circle cx="1018.1" cy="1411.9" r="8.9" fill="#d5d5d5"/>
<circle cx="1105.8" cy="1381" r="8.9" fill="#d5d5d5"/>
<circle cx="1104" cy="1385.7" r="8.9" fill="#d5d5d5"/>
<circle cx="1152.1" cy="1384.6" r="8.9" fill="#d5d5d5"/>
<circle cx="1152.1" cy="1420.4" r="8.9" fill="#d5d5d5"/>
<circle cx="1211.8" cy="1454.3" r="8.9" fill="#d5d5d5"/>
<circle cx="1121.5" cy="1510.2" r="8.9" fill="#d5d5d5"/>
<circle cx="1156.6" cy="1534.3" r="8.9" fill="#d5d5d5"/>
<circle cx="1307.7" cy="1523.8" r="8.9" fill="#d5d5d5"/>
<line x1="1018.50" y1="1397.40" x2="1304.70" y2="1547.20" stroke="#000" stroke-width="2.2"/>
<rect x="1196.55" y="1424.25" width="17.5" height="17.5" fill="#333"/>
<rect x="1160.95" y="1453.75" width="17.5" height="17.5" fill="#333"/>
<rect x="1138.45" y="1502.85" width="17.5" height="17.5" fill="#333"/>
<rect x="1171.95" y="1503.35" width="17.5" height="17.5" fill="#333"/>
<rect x="1128.15" y="1522.75" width="17.5" height="17.5" fill="#333"/>
<rect x="1189.45" y="1529.05" width="17.5" height="17.5" fill="#333"/>
<rect x="1246.85" y="1534.25" width="17.5" height="17.5" fill="#333"/>
<rect x="1250.25" y="1553.65" width="17.5" height="17.5" fill="#333"/></svg></body></html>
